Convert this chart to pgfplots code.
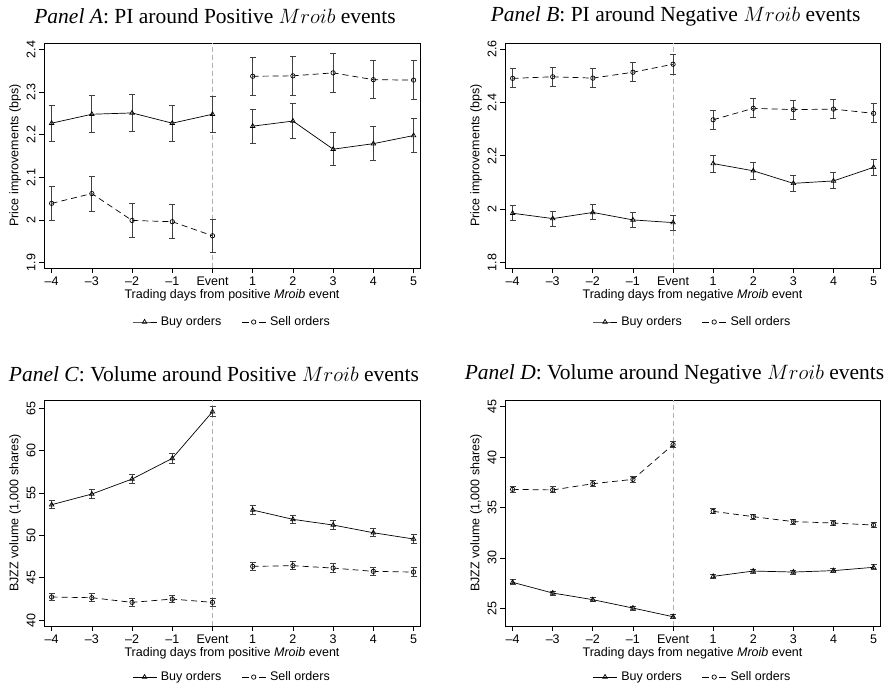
\documentclass[border=0pt]{standalone}
\usepackage{fontspec}
\setmainfont{Liberation Serif}
\setsansfont{Liberation Sans}
\usepackage{pgfplots}
\usepackage{pgfplotstable}
\pgfplotsset{compat=1.18}

\pgfplotstableread{
x y e
-4 2.227 0.042
-3 2.248 0.043
-2 2.251 0.043
-1 2.227 0.042
0 2.248 0.042
0.5 nan 0
1 2.220 0.040
2 2.232 0.040
3 2.166 0.039
4 2.179 0.040
5 2.198 0.040
}\Abuy
\pgfplotstableread{
x y e
-4 2.039 0.039
-3 2.062 0.041
-2 1.999 0.039
-1 1.996 0.040
0 1.963 0.039
0.5 nan 0
1 2.337 0.045
2 2.338 0.045
3 2.345 0.045
4 2.329 0.044
5 2.328 0.045
}\Asell
\pgfplotstableread{
x y e
-4 1.985 0.028
-3 1.965 0.028
-2 1.988 0.028
-1 1.960 0.028
0 1.950 0.028
0.5 nan 0
1 2.171 0.032
2 2.144 0.031
3 2.097 0.030
4 2.106 0.030
5 2.157 0.031
}\Bbuy
\pgfplotstableread{
x y e
-4 2.490 0.036
-3 2.496 0.036
-2 2.491 0.036
-1 2.513 0.036
0 2.543 0.037
0.5 nan 0
1 2.335 0.035
2 2.378 0.036
3 2.373 0.036
4 2.375 0.036
5 2.359 0.036
}\Bsell
\pgfplotstableread{
x y e
-4 53.62 0.50
-3 54.88 0.50
-2 56.65 0.55
-1 59.09 0.55
0 64.60 0.60
0.5 nan 0
1 52.99 0.50
2 51.89 0.50
3 51.22 0.50
4 50.31 0.50
5 49.57 0.50
}\Cbuy
\pgfplotstableread{
x y e
-4 42.72 0.45
-3 42.64 0.45
-2 42.09 0.45
-1 42.48 0.45
0 42.09 0.45
0.5 nan 0
1 46.34 0.50
2 46.42 0.50
3 46.14 0.50
4 45.75 0.50
5 45.67 0.50
}\Csell
\pgfplotstableread{
x y e
-4 27.58 0.25
-3 26.52 0.20
-2 25.86 0.20
-1 25.03 0.20
0 24.17 0.20
0.5 nan 0
1 28.17 0.20
2 28.70 0.20
3 28.60 0.20
4 28.74 0.20
5 29.07 0.25
}\Dbuy
\pgfplotstableread{
x y e
-4 36.80 0.30
-3 36.74 0.30
-2 37.36 0.30
-1 37.79 0.30
0 41.23 0.30
0.5 nan 0
1 34.62 0.25
2 34.09 0.25
3 33.60 0.25
4 33.46 0.25
5 33.26 0.25
}\Dsell

\pgfplotsset{
  panel/.style={
    scale only axis,
    axis line style={line width=0.8pt},
    xmin=-4.19, xmax=5.16,
    xtick={-4,-3,-2,-1,0,1,2,3,4,5},
    xticklabels={--4,--3,--2,--1,Event,1,2,3,4,5},
    tick align=outside,
    xtick pos=bottom, ytick pos=left,
    major tick length=5pt,
    tick style={line width=0.7pt, black},
    /pgf/number format/assume math mode=true,
    tick label style={font=\sffamily\fontsize{12.5}{14}\selectfont},
    yticklabel style={rotate=90, anchor=south},
    label style={font=\sffamily\fontsize{12.5}{14}\selectfont},
    xlabel style={at={(axis description cs:0.5,-0.12)}, anchor=center},
    ylabel style={at={(axis description cs:-0.077,0.5)}, anchor=center},
    title style={font=\fontsize{21.5}{24}\selectfont},
    unbounded coords=jump,
    legend columns=2,
    legend style={draw=none, fill=none, font=\sffamily\fontsize{12.5}{14}\selectfont,
      /tikz/every even column/.append style={column sep=18pt},
      /tikz/every odd column/.append style={column sep=2pt}},
    legend cell align=left,
    every axis legend/.append style={anchor=center},
  },
  buy/.style={black, line width=0.7pt, mark=triangle, mark size=2.6pt,
    mark options={solid, line width=0.7pt},
    legend image code/.code={\draw[mark repeat=2, mark phase=2] plot coordinates {(0pt,0pt) (12pt,0pt) (24pt,0pt)};},
    error bars/.cd, y dir=both, y explicit,
    error bar style={line width=1pt, black!75},
    error mark options={rotate=90, mark size=3pt, line width=1pt, black!75}},
  sell/.style={black, line width=0.7pt, dash pattern=on 6pt off 4pt, mark=o, mark size=2.2pt,
    mark options={solid, line width=0.7pt},
    legend image code/.code={\draw[dash pattern=on 7pt off 10pt, mark repeat=2, mark phase=2] plot coordinates {(0pt,0pt) (12pt,0pt) (24pt,0pt)};},
    error bars/.cd, y dir=both, y explicit,
    error bar style={line width=1pt, black!75, solid},
    error mark options={rotate=90, mark size=3pt, line width=1pt, black!75, solid}},
  eventline/.style={black!30, line width=1pt, dash pattern=on 5pt off 3pt, forget plot, mark=none},
}

\begin{document}
\begin{tikzpicture}[x=1pt,y=1pt]
\useasboundingbox (0,0) rectangle (888,688);

% Panel A
\begin{axis}[panel, at={(44pt,420pt)}, anchor=south west, width=376pt, height=225pt,
  ymin=1.8875, ymax=2.415, ytick={1.9,2,2.1,2.2,2.3,2.4},
  title={\textit{Panel A}: PI around Positive $Mroib$ events},
  title style={at={(axis description cs:0.455,1.092)}, anchor=center},
  xlabel={Trading days from positive \textit{Mroib} event},
  ylabel={Price improvements (bps)},
  legend style={at={(axis description cs:0.5,-0.24)}}]
\addplot[eventline] coordinates {(0,1.8875) (0,2.415)};
\addplot[buy] table[x=x,y=y,y error=e] {\Abuy};
\addplot[sell] table[x=x,y=y,y error=e] {\Asell};
\legend{Buy orders, Sell orders}
\end{axis}

% Panel B
\begin{axis}[panel, at={(505pt,420pt)}, anchor=south west, width=375pt, height=225pt,
  ymin=1.78, ymax=2.6225, ytick={1.8,2,2.2,2.4,2.6},
  title={\textit{Panel B}: PI around Negative $Mroib$ events},
  title style={at={(axis description cs:0.455,1.092)}, anchor=center},
  xlabel={Trading days from negative \textit{Mroib} event},
  ylabel={Price improvements (bps)},
  legend style={at={(axis description cs:0.5,-0.24)}}]
\addplot[eventline] coordinates {(0,1.78) (0,2.6225)};
\addplot[buy] table[x=x,y=y,y error=e] {\Bbuy};
\addplot[sell] table[x=x,y=y,y error=e] {\Bsell};
\legend{Buy orders, Sell orders}
\end{axis}

% Panel C
\begin{axis}[panel, at={(44pt,62pt)}, anchor=south west, width=376pt, height=226pt,
  ymin=39.3, ymax=65.98, ytick={40,45,50,55,60,65},
  title={\textit{Panel C}: Volume around Positive $Mroib$ events},
  title style={at={(axis description cs:0.452,1.089)}, anchor=center},
  xlabel={Trading days from positive \textit{Mroib} event},
  ylabel={BJZZ volume (1,000 shares)},
  legend style={at={(axis description cs:0.5,-0.226)}}]
\addplot[eventline] coordinates {(0,39.3) (0,65.98)};
\addplot[buy] table[x=x,y=y,y error=e] {\Cbuy};
\addplot[sell] table[x=x,y=y,y error=e] {\Csell};
\legend{Buy orders, Sell orders}
\end{axis}

% Panel D
\begin{axis}[panel, at={(505pt,62pt)}, anchor=south west, width=375pt, height=226pt,
  ymin=23.25, ymax=45.66, ytick={25,30,35,40,45},
  title={\textit{Panel D}: Volume around Negative $Mroib$ events},
  title style={at={(axis description cs:0.452,1.089)}, anchor=center},
  xlabel={Trading days from negative \textit{Mroib} event},
  ylabel={BJZZ volume (1,000 shares)},
  legend style={at={(axis description cs:0.5,-0.226)}}]
\addplot[eventline] coordinates {(0,23.25) (0,45.66)};
\addplot[buy] table[x=x,y=y,y error=e] {\Dbuy};
\addplot[sell] table[x=x,y=y,y error=e] {\Dsell};
\legend{Buy orders, Sell orders}
\end{axis}
\end{tikzpicture}
\end{document}
